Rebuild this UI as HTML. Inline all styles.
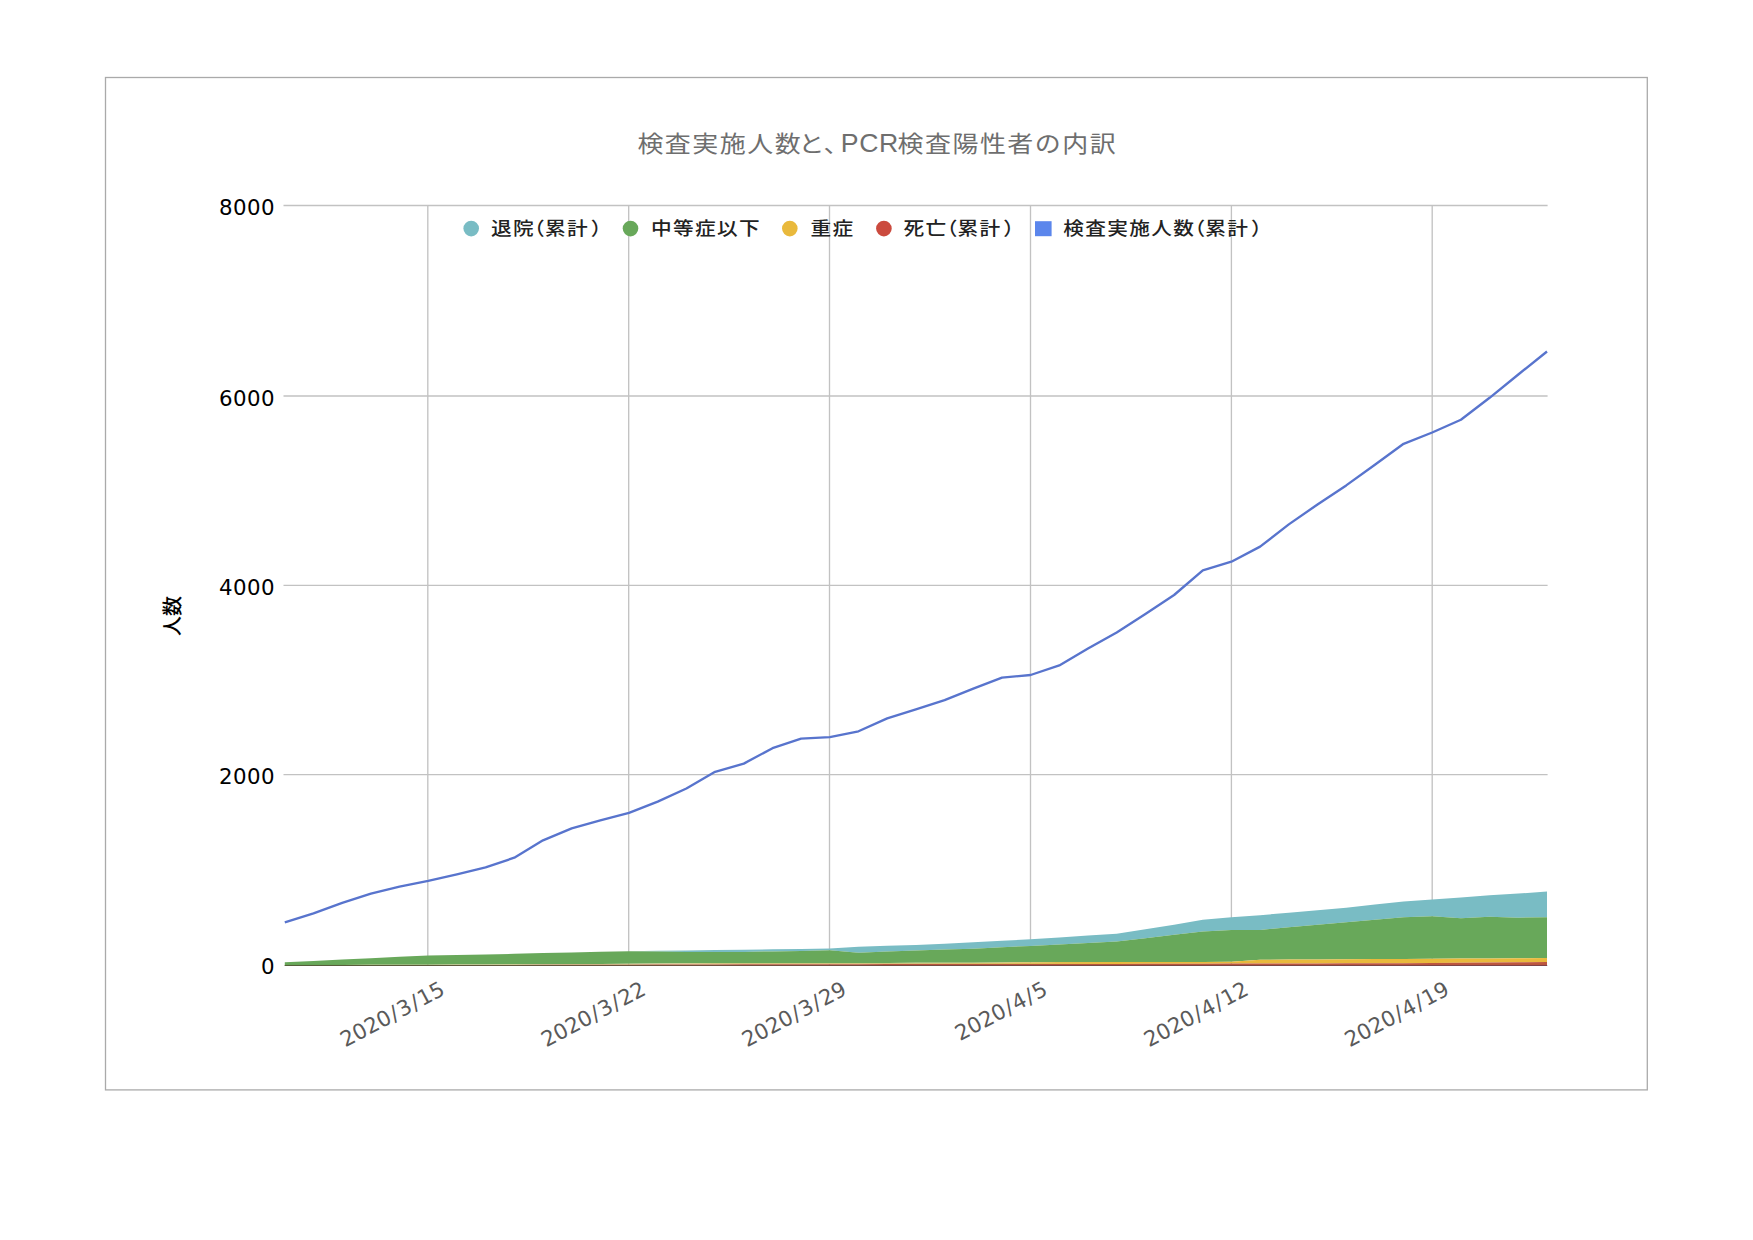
<!DOCTYPE html>
<html lang="ja">
<head>
<meta charset="utf-8">
<title>検査実施人数と、PCR検査陽性者の内訳</title>
<style>
html,body{margin:0;padding:0;background:#ffffff;}
body{width:1753px;height:1240px;overflow:hidden;}
svg{display:block;}
</style>
</head>
<body>
<svg width="1753" height="1240" viewBox="0 0 1753 1240">
<rect x="0" y="0" width="1753" height="1240" fill="#ffffff"/>
<rect x="105.5" y="77.5" width="1541.8" height="1012.4" fill="#ffffff" stroke="#aaaaaa" stroke-width="1.3"/>
<g stroke="#c2c2c2" stroke-width="1.33" fill="none">
<path d="M283.5,774.6 H1547.6"/>
<path d="M283.5,585.3 H1547.6"/>
<path d="M283.5,396.0 H1547.6"/>
<path d="M283.5,205.5 H1547.6"/>
<path d="M427.8,205 V965.3"/>
<path d="M628.7,205 V965.3"/>
<path d="M829.5,205 V965.3"/>
<path d="M1030.5,205 V965.3"/>
<path d="M1231.4,205 V965.3"/>
<path d="M1432.2,205 V965.3"/>
</g>
<path d="M284.8,962.3 L313.5,960.9 L342.2,959.6 L370.9,958.2 L399.5,956.8 L428.2,955.5 L456.9,954.9 L485.6,954.4 L514.3,953.8 L543.0,953.1 L571.7,952.5 L600.3,951.8 L629.0,951.2 L657.7,950.8 L686.4,950.4 L715.1,950.1 L743.8,949.7 L772.5,949.3 L801.1,948.9 L829.8,948.5 L858.5,946.8 L887.2,945.8 L915.9,944.9 L944.6,943.8 L973.3,942.2 L1002.0,940.8 L1030.6,939.3 L1059.3,937.5 L1088.0,935.6 L1116.7,933.8 L1145.4,929.3 L1174.1,924.7 L1202.8,919.8 L1231.4,917.3 L1260.1,915.2 L1288.8,912.8 L1317.5,910.3 L1346.2,907.7 L1374.9,904.6 L1403.6,901.5 L1432.2,899.5 L1460.9,897.4 L1489.6,895.3 L1518.3,893.6 L1547.0,891.6 L1547.0,917.3 L1518.3,917.7 L1489.6,916.8 L1460.9,918.2 L1432.2,916.3 L1403.6,917.3 L1374.9,919.7 L1346.2,922.2 L1317.5,924.7 L1288.8,927.3 L1260.1,929.9 L1231.4,929.9 L1202.8,931.5 L1174.1,934.8 L1145.4,938.2 L1116.7,941.5 L1088.0,943.0 L1059.3,944.4 L1030.6,945.9 L1002.0,947.3 L973.3,948.7 L944.6,949.6 L915.9,950.5 L887.2,951.5 L858.5,952.8 L829.8,950.3 L801.1,950.9 L772.5,951.4 L743.8,952.0 L715.1,952.1 L686.4,951.9 L657.7,951.6 L629.0,951.2 L600.3,951.8 L571.7,952.5 L543.0,953.1 L514.3,953.8 L485.6,954.4 L456.9,954.9 L428.2,955.5 L399.5,956.8 L370.9,958.2 L342.2,959.6 L313.5,960.9 L284.8,962.3Z" fill="#79bcc4"/>
<path d="M284.8,962.3 L313.5,960.9 L342.2,959.6 L370.9,958.2 L399.5,956.8 L428.2,955.5 L456.9,954.9 L485.6,954.4 L514.3,953.8 L543.0,953.1 L571.7,952.5 L600.3,951.8 L629.0,951.2 L657.7,951.6 L686.4,951.9 L715.1,952.1 L743.8,952.0 L772.5,951.4 L801.1,950.9 L829.8,950.3 L858.5,952.8 L887.2,951.5 L915.9,950.5 L944.6,949.6 L973.3,948.7 L1002.0,947.3 L1030.6,945.9 L1059.3,944.4 L1088.0,943.0 L1116.7,941.5 L1145.4,938.2 L1174.1,934.8 L1202.8,931.5 L1231.4,929.9 L1260.1,929.9 L1288.8,927.3 L1317.5,924.7 L1346.2,922.2 L1374.9,919.7 L1403.6,917.3 L1432.2,916.3 L1460.9,918.2 L1489.6,916.8 L1518.3,917.7 L1547.0,917.3 L1547.0,958.0 L1518.3,958.2 L1489.6,958.4 L1460.9,958.6 L1432.2,958.8 L1403.6,959.0 L1374.9,959.1 L1346.2,959.3 L1317.5,959.4 L1288.8,959.6 L1260.1,959.7 L1231.4,961.8 L1202.8,961.9 L1174.1,961.9 L1145.4,962.0 L1116.7,962.0 L1088.0,962.1 L1059.3,962.1 L1030.6,962.2 L1002.0,962.4 L973.3,962.7 L944.6,962.8 L915.9,962.8 L887.2,962.9 L858.5,962.9 L829.8,962.9 L801.1,962.9 L772.5,963.0 L743.8,963.0 L715.1,963.0 L686.4,963.3 L657.7,963.5 L629.0,963.8 L600.3,964.0 L571.7,964.1 L543.0,964.2 L514.3,964.3 L485.6,964.5 L456.9,964.6 L428.2,964.7 L399.5,964.7 L370.9,964.8 L342.2,964.9 L313.5,964.9 L284.8,965.0Z" fill="#68a85a"/>
<defs><linearGradient id="yg" gradientUnits="userSpaceOnUse" x1="284" x2="1547" y1="0" y2="0"><stop offset="0" stop-color="#c9c584"/><stop offset="0.5" stop-color="#cfc47c"/><stop offset="0.66" stop-color="#e9b93c"/><stop offset="1" stop-color="#e9b93c"/></linearGradient></defs>
<path d="M284.8,965.0 L313.5,964.9 L342.2,964.9 L370.9,964.8 L399.5,964.7 L428.2,964.7 L456.9,964.6 L485.6,964.5 L514.3,964.3 L543.0,964.2 L571.7,964.1 L600.3,964.0 L629.0,963.8 L657.7,963.5 L686.4,963.3 L715.1,963.0 L743.8,963.0 L772.5,963.0 L801.1,962.9 L829.8,962.9 L858.5,962.9 L887.2,962.9 L915.9,962.8 L944.6,962.8 L973.3,962.7 L1002.0,962.4 L1030.6,962.2 L1059.3,962.1 L1088.0,962.1 L1116.7,962.0 L1145.4,962.0 L1174.1,961.9 L1202.8,961.9 L1231.4,961.8 L1260.1,959.7 L1288.8,959.6 L1317.5,959.4 L1346.2,959.3 L1374.9,959.1 L1403.6,959.0 L1432.2,958.8 L1460.9,958.6 L1489.6,958.4 L1518.3,958.2 L1547.0,958.0 L1547.0,962.1 L1518.3,962.3 L1489.6,962.5 L1460.9,962.7 L1432.2,963.0 L1403.6,963.2 L1374.9,963.3 L1346.2,963.3 L1317.5,963.4 L1288.8,963.5 L1260.1,963.5 L1231.4,963.6 L1202.8,963.7 L1174.1,963.8 L1145.4,963.8 L1116.7,963.9 L1088.0,963.9 L1059.3,964.0 L1030.6,964.0 L1002.0,964.1 L973.3,964.1 L944.6,964.1 L915.9,964.1 L887.2,964.1 L858.5,964.2 L829.8,964.2 L801.1,964.2 L772.5,964.2 L743.8,964.3 L715.1,964.4 L686.4,964.5 L657.7,964.6 L629.0,964.7 L600.3,964.8 L571.7,964.8 L543.0,964.8 L514.3,964.9 L485.6,964.9 L456.9,964.9 L428.2,964.9 L399.5,964.9 L370.9,964.9 L342.2,965.0 L313.5,965.0 L284.8,965.0Z" fill="url(#yg)"/>
<path d="M284.8,965.0 L313.5,965.0 L342.2,965.0 L370.9,964.9 L399.5,964.9 L428.2,964.9 L456.9,964.9 L485.6,964.9 L514.3,964.9 L543.0,964.8 L571.7,964.8 L600.3,964.8 L629.0,964.7 L657.7,964.6 L686.4,964.5 L715.1,964.4 L743.8,964.3 L772.5,964.2 L801.1,964.2 L829.8,964.2 L858.5,964.2 L887.2,964.1 L915.9,964.1 L944.6,964.1 L973.3,964.1 L1002.0,964.1 L1030.6,964.0 L1059.3,964.0 L1088.0,963.9 L1116.7,963.9 L1145.4,963.8 L1174.1,963.8 L1202.8,963.7 L1231.4,963.6 L1260.1,963.5 L1288.8,963.5 L1317.5,963.4 L1346.2,963.3 L1374.9,963.3 L1403.6,963.2 L1432.2,963.0 L1460.9,962.7 L1489.6,962.5 L1518.3,962.3 L1547.0,962.1 L1547.0,965.2 L1518.3,965.2 L1489.6,965.2 L1460.9,965.2 L1432.2,965.2 L1403.6,965.2 L1374.9,965.2 L1346.2,965.2 L1317.5,965.2 L1288.8,965.2 L1260.1,965.2 L1231.4,965.2 L1202.8,965.2 L1174.1,965.2 L1145.4,965.2 L1116.7,965.2 L1088.0,965.2 L1059.3,965.2 L1030.6,965.2 L1002.0,965.2 L973.3,965.2 L944.6,965.2 L915.9,965.2 L887.2,965.2 L858.5,965.2 L829.8,965.2 L801.1,965.2 L772.5,965.2 L743.8,965.2 L715.1,965.2 L686.4,965.2 L657.7,965.2 L629.0,965.2 L600.3,965.2 L571.7,965.2 L543.0,965.2 L514.3,965.2 L485.6,965.2 L456.9,965.2 L428.2,965.2 L399.5,965.2 L370.9,965.2 L342.2,965.2 L313.5,965.2 L284.8,965.2Z" fill="#bd563e"/>
<defs><linearGradient id="bl" x1="0" x2="1" y1="0" y2="0"><stop offset="0" stop-color="#4c5a32"/><stop offset="0.35" stop-color="#6b4a36"/><stop offset="1" stop-color="#7a3c42"/></linearGradient></defs>
<rect x="284.6" y="964.95" width="1262.6" height="1.0" fill="url(#bl)"/>
<path d="M284.8,922.4 L313.5,913.3 L342.2,902.8 L370.9,893.6 L399.5,886.6 L428.2,880.9 L456.9,874.4 L485.6,867.4 L514.3,857.7 L543.0,840.3 L571.7,828.3 L600.3,820.3 L629.0,812.9 L657.7,801.6 L686.4,788.5 L715.1,771.8 L743.8,763.6 L772.5,748.2 L801.1,738.6 L829.8,737.2 L858.5,731.3 L887.2,718.4 L915.9,709.4 L944.6,700.2 L973.3,688.7 L1002.0,677.7 L1030.6,675.0 L1059.3,665.4 L1088.0,648.6 L1116.7,632.5 L1145.4,614.0 L1174.1,595.0 L1202.8,570.3 L1231.4,561.7 L1260.1,546.6 L1288.8,524.4 L1317.5,504.5 L1346.2,485.4 L1374.9,464.8 L1403.6,443.8 L1432.2,432.5 L1460.9,419.8 L1489.6,397.8 L1518.3,374.5 L1547.0,351.5" fill="none" stroke="#5874cd" stroke-width="2.35" stroke-linejoin="round"/>
<text transform="translate(637.4,151.6) scale(1.14,1)" font-family="'Liberation Sans','Noto Sans CJK JP',sans-serif" font-size="22.8" letter-spacing="1.3" fill="#6e6e6e">検査実施人数<tspan dx="-3.2">と</tspan></text>
<text transform="translate(823.5,151.6) scale(1.14,1)" font-family="'Liberation Sans','Noto Sans CJK JP',sans-serif" font-size="22.8" letter-spacing="1.3" fill="#6e6e6e">、</text>
<text x="840.8" y="152.2" font-family="'Liberation Sans',sans-serif" font-size="26.67" letter-spacing="0.6" fill="#6e6e6e">PCR</text>
<text transform="translate(897.5,151.6) scale(1.14,1)" font-family="'Liberation Sans','Noto Sans CJK JP',sans-serif" font-size="22.8" letter-spacing="1.3" fill="#6e6e6e">検査陽性者の内訳</text>
<circle cx="471.2" cy="228.6" r="7.8" fill="#79bcc4"/>
<text transform="translate(491.0,235.3) scale(1.13,1)" font-family="'Liberation Sans','Noto Sans CJK JP',sans-serif" font-size="18.3" letter-spacing="1.2" fill="#222222" font-weight="500">退院<tspan dx="-9.7">（</tspan><tspan dx="-1">累計</tspan><tspan dx="1.5">）</tspan></text>
<circle cx="630.5" cy="228.6" r="7.8" fill="#68a85a"/>
<text transform="translate(651.0,235.3) scale(1.13,1)" font-family="'Liberation Sans','Noto Sans CJK JP',sans-serif" font-size="18.3" letter-spacing="1.2" fill="#222222" font-weight="500">中等症以下</text>
<circle cx="789.8" cy="228.6" r="7.8" fill="#e9b93c"/>
<text transform="translate(810.6,235.3) scale(1.13,1)" font-family="'Liberation Sans','Noto Sans CJK JP',sans-serif" font-size="18.3" letter-spacing="1.2" fill="#222222" font-weight="500">重症</text>
<circle cx="883.9" cy="228.6" r="7.8" fill="#cb4a3e"/>
<text transform="translate(903.6,235.3) scale(1.13,1)" font-family="'Liberation Sans','Noto Sans CJK JP',sans-serif" font-size="18.3" letter-spacing="1.2" fill="#222222" font-weight="500">死亡<tspan dx="-9.7">（</tspan><tspan dx="-1">累計</tspan><tspan dx="1.5">）</tspan></text>
<rect x="1035" y="221.2" width="16.6" height="15" fill="#5b86ec"/>
<text transform="translate(1063.2,235.3) scale(1.13,1)" font-family="'Liberation Sans','Noto Sans CJK JP',sans-serif" font-size="18.3" letter-spacing="1.2" fill="#222222" font-weight="500">検査実施人数<tspan dx="-9.7">（</tspan><tspan dx="-1">累計</tspan><tspan dx="1.5">）</tspan></text>
<text x="274.9" y="974.0" text-anchor="end" letter-spacing="0.4" font-family="'DejaVu Sans','Liberation Sans',sans-serif" font-size="21.33" fill="#000000">0</text>
<text x="274.9" y="784.1" text-anchor="end" letter-spacing="0.4" font-family="'DejaVu Sans','Liberation Sans',sans-serif" font-size="21.33" fill="#000000">2000</text>
<text x="274.9" y="594.8" text-anchor="end" letter-spacing="0.4" font-family="'DejaVu Sans','Liberation Sans',sans-serif" font-size="21.33" fill="#000000">4000</text>
<text x="274.9" y="405.5" text-anchor="end" letter-spacing="0.4" font-family="'DejaVu Sans','Liberation Sans',sans-serif" font-size="21.33" fill="#000000">6000</text>
<text x="274.9" y="215.0" text-anchor="end" letter-spacing="0.4" font-family="'DejaVu Sans','Liberation Sans',sans-serif" font-size="21.33" fill="#000000">8000</text>
<text transform="translate(446.3,993.8) rotate(-28)" text-anchor="end" font-family="'DejaVu Sans','Liberation Sans',sans-serif" font-size="21.33" fill="#5a5a5a">2020<tspan dx="1.25">/</tspan><tspan dx="1.25">3</tspan><tspan dx="1.25">/</tspan><tspan dx="1.25">15</tspan></text>
<text transform="translate(647.2,993.8) rotate(-28)" text-anchor="end" font-family="'DejaVu Sans','Liberation Sans',sans-serif" font-size="21.33" fill="#5a5a5a">2020<tspan dx="1.25">/</tspan><tspan dx="1.25">3</tspan><tspan dx="1.25">/</tspan><tspan dx="1.25">22</tspan></text>
<text transform="translate(848.0,993.8) rotate(-28)" text-anchor="end" font-family="'DejaVu Sans','Liberation Sans',sans-serif" font-size="21.33" fill="#5a5a5a">2020<tspan dx="1.25">/</tspan><tspan dx="1.25">3</tspan><tspan dx="1.25">/</tspan><tspan dx="1.25">29</tspan></text>
<text transform="translate(1049.0,993.8) rotate(-28)" text-anchor="end" font-family="'DejaVu Sans','Liberation Sans',sans-serif" font-size="21.33" fill="#5a5a5a">2020<tspan dx="1.25">/</tspan><tspan dx="1.25">4</tspan><tspan dx="1.25">/</tspan><tspan dx="1.25">5</tspan></text>
<text transform="translate(1249.9,993.8) rotate(-28)" text-anchor="end" font-family="'DejaVu Sans','Liberation Sans',sans-serif" font-size="21.33" fill="#5a5a5a">2020<tspan dx="1.25">/</tspan><tspan dx="1.25">4</tspan><tspan dx="1.25">/</tspan><tspan dx="1.25">12</tspan></text>
<text transform="translate(1450.7,993.8) rotate(-28)" text-anchor="end" font-family="'DejaVu Sans','Liberation Sans',sans-serif" font-size="21.33" fill="#5a5a5a">2020<tspan dx="1.25">/</tspan><tspan dx="1.25">4</tspan><tspan dx="1.25">/</tspan><tspan dx="1.25">19</tspan></text>
<text transform="translate(179.5,616) rotate(-90)" text-anchor="middle" font-family="'Liberation Sans','Noto Sans CJK JP',sans-serif" font-size="20" font-weight="500" fill="#000000">人数</text>
</svg>
</body>
</html>
